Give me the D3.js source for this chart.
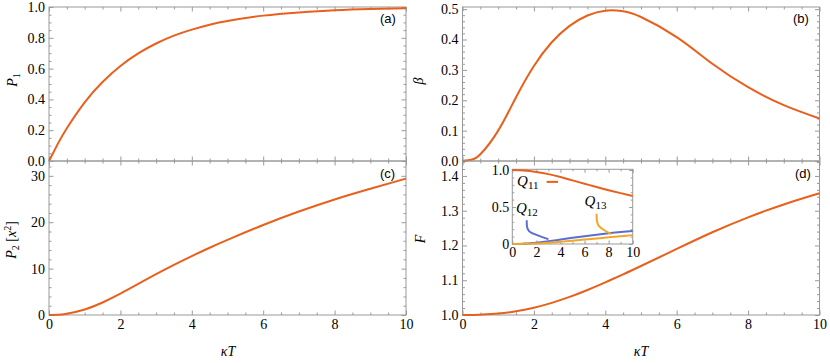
<!DOCTYPE html>
<html>
<head>
<meta charset="utf-8">
<script src="https://cdn.jsdelivr.net/npm/d3@7"></script>
<style>
body { margin: 0; background: #fff; }
svg { display: block; }
</style>
</head>
<body>
<script>
// kappa T grid for main panels
var kT = [0, 0.25, 0.5, 1, 1.5, 2, 2.5, 3, 3.5, 4, 4.5, 5, 6, 7, 8, 9, 10];

// values
var P1   = [0, 0.113, 0.213, 0.381, 0.513, 0.617, 0.699, 0.763, 0.814, 0.853, 0.885, 0.909, 0.944, 0.965, 0.979, 0.987, 0.992];
var beta = [0, 0.004, 0.022, 0.1, 0.21, 0.313, 0.391, 0.445, 0.479, 0.495, 0.493, 0.474, 0.408, 0.32, 0.243, 0.184, 0.14];
var P2   = [0, 0.05, 0.28, 1.2, 2.7, 4.6, 6.7, 8.8, 10.8, 12.7, 14.5, 16.2, 19.4, 22.3, 24.9, 27.2, 29.4];
var F    = [1.0, 1.0, 1.001, 1.004, 1.011, 1.021, 1.035, 1.052, 1.072, 1.094, 1.117, 1.141, 1.19, 1.238, 1.281, 1.318, 1.35];

// inset
var kTin = [0, 1, 2, 3, 4, 5, 6, 7, 8, 9, 10];
var Q11 = [1.0, 0.995, 0.975, 0.945, 0.905, 0.86, 0.815, 0.77, 0.728, 0.688, 0.65];
var Q12 = [0, 0.005, 0.018, 0.037, 0.06, 0.083, 0.105, 0.126, 0.145, 0.162, 0.176];
var Q13 = [0, 0.002, 0.008, 0.018, 0.03, 0.045, 0.06, 0.075, 0.09, 0.105, 0.12];

var xMajor = [0, 2, 4, 6, 8, 10];

var w = 830, h = 363;
var orange = "#e8601c", blue = "#5a6fd2", gold = "#f2a62a", frameCol = "#999";

var svg = d3.select("body").append("svg")
    .attr("width", w)
    .attr("height", h);

function range(a, b, s) {
    var out = [];
    for (var v = a; v <= b + 1e-9; v += s) out.push(+v.toFixed(6));
    return out;
}

// font helper: attribute plus inline style string
function font(sel, fam, size, italic) {
    sel.attr("font-family", fam)
       .attr("font-size", size)
       .attr("style", "font-family:'" + fam + "';font-size:" + size + "px" + (italic ? ";font-style:italic" : ""));
    return sel;
}

//draw one framed panel with inward ticks on all sides
function panel(o) {
    var x = d3.scaleLinear().domain([0, 10]).range([o.left, o.right]);
    var y = d3.scaleLinear().domain(o.yDomain).range([o.bottom, o.top]);
    var g = svg.append("g");

    g.append("rect")
        .attr("x", o.left).attr("y", o.top)
        .attr("width", o.right - o.left).attr("height", o.bottom - o.top)
        .attr("fill", o.fill || "none")
        .attr("stroke", frameCol).attr("stroke-width", 1);

    var big = o.big || 4.5, small = o.small || 2.5;
    var xMin = range(0, 10, o.xMinor).filter(function(d){ return o.xMajor.indexOf(d) < 0; });
    var yMin = range(o.yDomain[0], o.yDomain[1], o.yMinor).filter(function(d){
        return !o.yMajor.some(function(m){ return Math.abs(m - d) < 1e-6; });
    });

    function ax(gen, scale, vals, size, labels, tx, ty) {
        var a = gen(scale).tickValues(vals).tickSize(-size).tickPadding(o.pad || 4);
        a.tickFormat(labels ? labels : "");
        var ga = g.append("g")
            .attr("transform", "translate(" + tx + "," + ty + ")")
            .attr("color", frameCol)
            .call(a);
        font(ga, "Liberation Serif", 14);
        ga.select(".domain").remove();
        return ga;
    }
    // bottom
    var xl = o.xLabels ? function(d){ return d; } : null;
    ax(d3.axisBottom, x, o.xMajor, big, xl, 0, o.bottom);
    ax(d3.axisBottom, x, xMin, small, null, 0, o.bottom);
    // top
    ax(d3.axisTop, x, o.xMajor, big, null, 0, o.top);
    ax(d3.axisTop, x, xMin, small, null, 0, o.top);
    // left
    ax(d3.axisLeft, y, o.yMajor, big, o.yFmt, o.left, 0);
    ax(d3.axisLeft, y, yMin, small, null, o.left, 0);
    // right
    ax(d3.axisRight, y, o.yMajor, big, null, o.right, 0);
    ax(d3.axisRight, y, yMin, small, null, o.right, 0);

    font(g.selectAll(".tick text").attr("fill", "#000"), "Liberation Serif", 14);

    return { g: g, x: x, y: y };
}

function curve(p, xs, ys, col) {
    var line = d3.line()
        .x(function(d){ return p.x(d[0]); })
        .y(function(d){ return p.y(d[1]); })
        .curve(d3.curveNatural);
    p.g.append("path")
        .datum(xs.map(function(v, i){ return [v, ys[i]]; }))
        .attr("fill", "none")
        .attr("stroke", col)
        .attr("stroke-width", 2)
        .attr("d", line);
}

function label(x, y, rot, html, size) {
    var t = font(svg.append("text"), "Liberation Serif", size || 14, true).attr("fill", "#000");
    if (rot) t.attr("transform", "translate(" + x + "," + y + ") rotate(-90)").attr("text-anchor", "middle");
    else t.attr("x", x).attr("y", y);
    t.html(html);
    return t;
}

var f1 = d3.format(".1f");

// (a)
var pa = panel({ left: 49, right: 406, top: 7, bottom: 161, yDomain: [0, 1],
    xMajor: xMajor, xMinor: 0.5, yMajor: range(0, 1, 0.2), yMinor: 0.05, yFmt: f1 });
curve(pa, kT, P1, orange);

// (b)
var pb = panel({ left: 462.5, right: 819.5, top: 7, bottom: 161, yDomain: [0, 0.507],
    xMajor: xMajor, xMinor: 0.5, yMajor: range(0, 0.5, 0.1), yMinor: 0.02, yFmt: f1 });
curve(pb, kT, beta, orange);

// (c)
var pc = panel({ left: 49, right: 406, top: 161, bottom: 315, yDomain: [0, 33.2],
    xMajor: xMajor, xMinor: 0.5, yMajor: [0, 10, 20, 30], yMinor: 2, yFmt: d3.format("d"), xLabels: true });
curve(pc, kT, P2, orange);

// (d)
var pd = panel({ left: 462.5, right: 819.5, top: 161, bottom: 315, yDomain: [1, 1.443],
    xMajor: xMajor, xMinor: 0.5, yMajor: range(1, 1.4, 0.1), yMinor: 0.02, yFmt: f1, xLabels: true });
curve(pd, kT, F, orange);

// panel letters
[["(a)", 380, 23], ["(b)", 793, 23], ["(c)", 380, 178], ["(d)", 795, 178]].forEach(function(t){
    font(svg.append("text"), "Liberation Sans", 13)
        .attr("fill", "#000")
        .attr("x", t[1]).attr("y", t[2]).text(t[0]);
});

// axis titles
var sub = '<tspan font-style="normal" font-size="10" style="font-style:normal;font-size:10px" dy="3">';
var up = '<tspan font-style="normal" style="font-style:normal" ';
label(17, 80, true, 'P' + sub + '1</tspan>');
label(423, 81, true, '\u03b2');
label(16, 240, true, 'P' + sub + '2</tspan>' + up + 'dy="-3"> [</tspan>x<tspan font-style="normal" font-size="10" style="font-style:normal;font-size:10px" dy="-5">2</tspan>' + up + 'dy="5">]</tspan>');
label(425, 239, true, 'F');
[228, 641].forEach(function(cx){
    label(cx, 356, false, '\u03baT').attr("text-anchor", "middle");
});

// inset in (d)
var pi = panel({ left: 512.3, right: 632.7, top: 169.3, bottom: 244, yDomain: [0, 1.01],
    xMajor: xMajor, xMinor: 1, yMajor: [0, 0.5, 1], yMinor: 0.1, fill: "#fff",
    yFmt: function(d){ return d === 0 ? "0" : f1(d); }, xLabels: true, big: 3.5, small: 2, pad: 3 });
curve(pi, kTin, Q11, orange);
curve(pi, kTin, Q12, blue);
curve(pi, kTin, Q13, gold);

// leader lines and Q labels
var lead = d3.line().x(function(d){ return pi.x(d[0]); }).y(function(d){ return pi.y(d[1]); }).curve(d3.curveBasis);
[[ [[2.85, 0.84], [3.8, 0.84]], orange ],
 [ [[1.2, 0.32], [1.2, 0.25], [1.25, 0.17], [2.2, 0.11], [3.0, 0.065]], blue ],
 [ [[7.0, 0.41], [7.0, 0.33], [7.1, 0.24], [7.7, 0.18], [8.2, 0.135]], gold ]].forEach(function(l){
    pi.g.append("path").datum(l[0])
        .attr("fill", "none").attr("stroke", l[1]).attr("stroke-width", 2)
        .attr("d", lead);
});

[["11", 0.4, 0.78], ["12", 0.3, 0.42], ["13", 6.0, 0.51]].forEach(function(q){
    label(pi.x(q[1]), pi.y(q[2]), false, 'Q<tspan font-style="normal" font-size="11" style="font-style:normal;font-size:11px" dy="3">' + q[0] + '</tspan>', 15);
});
</script>
</body>
</html>
